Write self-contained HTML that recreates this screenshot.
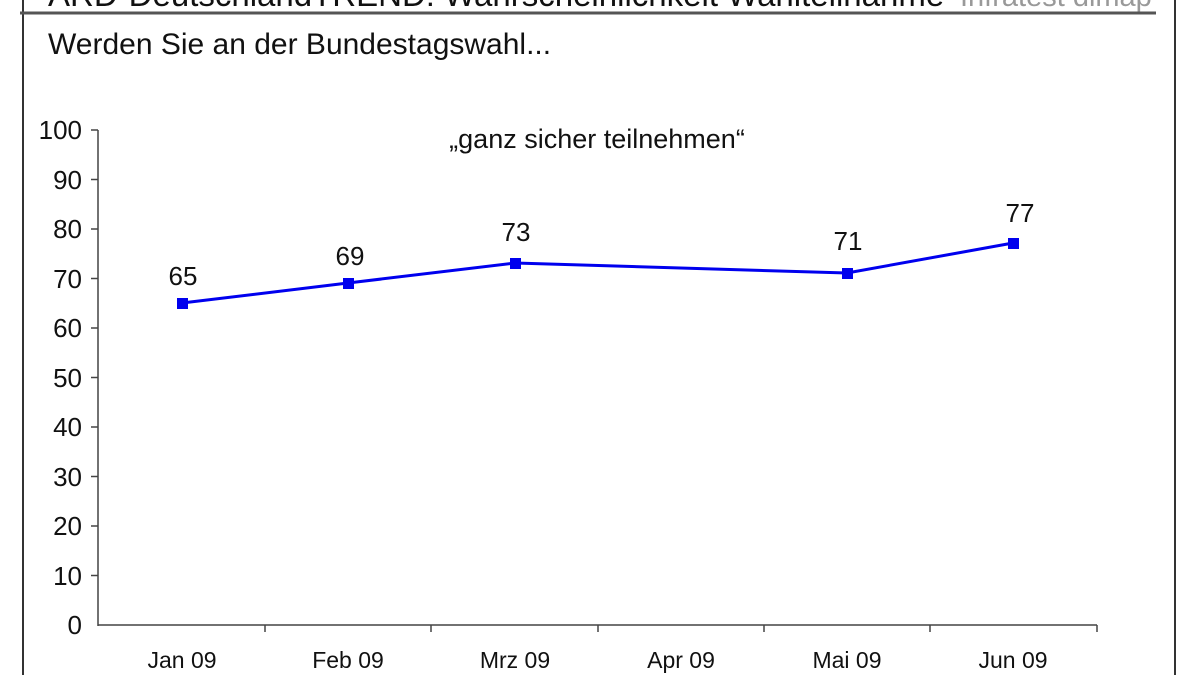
<!DOCTYPE html>
<html><head><style>
html,body{margin:0;padding:0;background:#fff;width:1200px;height:675px;overflow:hidden}
</style></head><body>
<svg width="1200" height="675" xmlns="http://www.w3.org/2000/svg" font-family="Liberation Sans, Arial, sans-serif">
<rect x="0" y="0" width="1200" height="675" fill="#fff"/>
<line x1="23" y1="0" x2="23" y2="675" stroke="#333" stroke-width="2"/>
<line x1="1175" y1="0" x2="1175" y2="675" stroke="#333" stroke-width="2"/>
<text x="48" y="6" font-size="33" fill="#111">ARD-DeutschlandTREND: Wahrscheinlichkeit Wahlteilnahme</text>
<text x="960" y="6" font-size="29" fill="#999">Infratest dimap</text>
<line x1="20" y1="13" x2="1156" y2="13" stroke="#555" stroke-width="3"/>
<text x="48" y="54" font-size="30" fill="#111">Werden Sie an der Bundestagswahl...</text>
<text x="597" y="148" font-size="27" fill="#111" text-anchor="middle">„ganz sicher teilnehmen“</text>
<g stroke="#444" stroke-width="1.5">
<line x1="98" y1="130" x2="98" y2="626"/>
<line x1="98" y1="625" x2="1097" y2="625"/>
<line x1="91" y1="130" x2="98" y2="130"/><line x1="91" y1="179.5" x2="98" y2="179.5"/>
<line x1="91" y1="229" x2="98" y2="229"/><line x1="91" y1="278.5" x2="98" y2="278.5"/>
<line x1="91" y1="328" x2="98" y2="328"/><line x1="91" y1="377.5" x2="98" y2="377.5"/>
<line x1="91" y1="427" x2="98" y2="427"/><line x1="91" y1="476.5" x2="98" y2="476.5"/>
<line x1="91" y1="526" x2="98" y2="526"/><line x1="91" y1="575.5" x2="98" y2="575.5"/>
<line x1="265" y1="625" x2="265" y2="632"/><line x1="431" y1="625" x2="431" y2="632"/>
<line x1="598" y1="625" x2="598" y2="632"/><line x1="764" y1="625" x2="764" y2="632"/>
<line x1="930" y1="625" x2="930" y2="632"/><line x1="1097" y1="625" x2="1097" y2="632"/>
</g>
<g font-size="26" fill="#111" text-anchor="end">
<text x="82" y="139">100</text><text x="82" y="189">90</text><text x="82" y="238">80</text>
<text x="82" y="288">70</text><text x="82" y="337">60</text><text x="82" y="387">50</text>
<text x="82" y="436">40</text><text x="82" y="486">30</text><text x="82" y="535">20</text>
<text x="82" y="585">10</text><text x="82" y="634">0</text>
</g>
<g font-size="23" fill="#111" text-anchor="middle">
<text x="182" y="668">Jan 09</text><text x="348" y="668">Feb 09</text><text x="515" y="668">Mrz 09</text>
<text x="681" y="668">Apr 09</text><text x="847" y="668">Mai 09</text><text x="1013" y="668">Jun 09</text>
</g>
<polyline points="182,303 348,283 515,263 847,273 1013,243" fill="none" stroke="#0000ee" stroke-width="3"/>
<g fill="#0000ee">
<rect x="177" y="298" width="11" height="11"/><rect x="343" y="278" width="11" height="11"/>
<rect x="510" y="258" width="11" height="11"/><rect x="842" y="268" width="11" height="11"/>
<rect x="1008" y="238" width="11" height="11"/>
</g>
<g font-size="26" fill="#111" text-anchor="middle">
<text x="183" y="285">65</text><text x="350" y="265">69</text><text x="516" y="241">73</text>
<text x="848" y="250">71</text><text x="1020" y="222">77</text>
</g>
</svg>
</body></html>
